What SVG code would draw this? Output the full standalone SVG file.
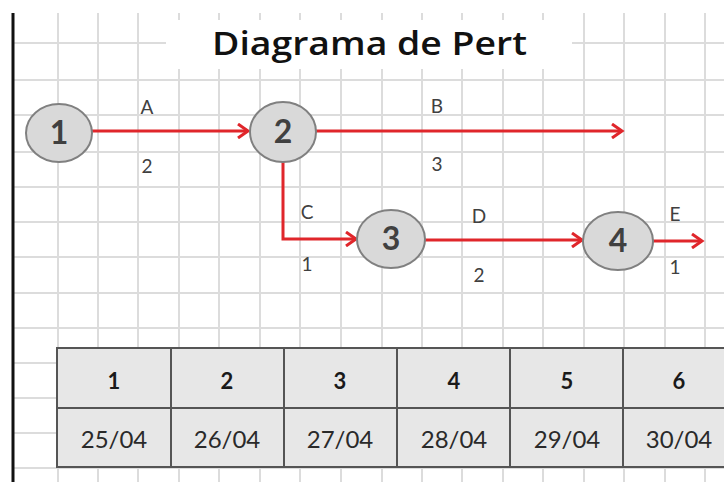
<svg xmlns="http://www.w3.org/2000/svg" width="724" height="482" viewBox="0 0 724 482">
<defs>
<style>
.grid line{stroke:#dcdcdc;stroke-width:2}
.node ellipse{fill:#d9d9d9;stroke:#808080;stroke-width:2}
.node text{font-family:Lato,"Liberation Sans",sans-serif;font-weight:bold;font-size:32px;fill:#404040;text-anchor:middle}
.lbl{font-family:Lato,"Liberation Sans",sans-serif;font-size:19px;fill:#404040;text-anchor:middle}
.edge{fill:none;stroke:#e0262b;stroke-width:3}
.cell rect{fill:#e7e7e7;stroke:#555;stroke-width:2}
.hd{font-family:Lato,"Liberation Sans",sans-serif;font-weight:bold;font-size:22px;fill:#1a1a1a;text-anchor:middle}
.dt{font-family:Lato,"Liberation Sans",sans-serif;font-size:24px;fill:#2a2a2a;text-anchor:middle}
</style>
<marker id="arr" markerUnits="userSpaceOnUse" markerWidth="16" markerHeight="16" refX="12" refY="8" orient="auto">
<path d="M2,1 L12,8 L2,15" fill="none" stroke="#e0262b" stroke-width="3"/>
</marker>
</defs>
<rect width="724" height="482" fill="#ffffff"/>
<g class="grid">
<line x1="13" y1="43" x2="724" y2="43"/>
<line x1="13" y1="80" x2="724" y2="80"/>
<line x1="13" y1="115" x2="724" y2="115"/>
<line x1="13" y1="152" x2="724" y2="152"/>
<line x1="13" y1="187" x2="724" y2="187"/>
<line x1="13" y1="222" x2="724" y2="222"/>
<line x1="13" y1="257" x2="724" y2="257"/>
<line x1="13" y1="293" x2="724" y2="293"/>
<line x1="13" y1="328" x2="724" y2="328"/>
<line x1="13" y1="363" x2="724" y2="363"/>
<line x1="13" y1="398" x2="724" y2="398"/>
<line x1="13" y1="433" x2="724" y2="433"/>
<line x1="13" y1="468" x2="724" y2="468"/>
<line x1="58" y1="13" x2="58" y2="482"/>
<line x1="98" y1="13" x2="98" y2="482"/>
<line x1="138" y1="13" x2="138" y2="482"/>
<line x1="179" y1="13" x2="179" y2="482"/>
<line x1="219" y1="13" x2="219" y2="482"/>
<line x1="260" y1="13" x2="260" y2="482"/>
<line x1="300" y1="13" x2="300" y2="482"/>
<line x1="341" y1="13" x2="341" y2="482"/>
<line x1="382" y1="13" x2="382" y2="482"/>
<line x1="422" y1="13" x2="422" y2="482"/>
<line x1="462" y1="13" x2="462" y2="482"/>
<line x1="503" y1="13" x2="503" y2="482"/>
<line x1="543" y1="13" x2="543" y2="482"/>
<line x1="584" y1="13" x2="584" y2="482"/>
<line x1="624" y1="13" x2="624" y2="482"/>
<line x1="665" y1="13" x2="665" y2="482"/>
<line x1="705" y1="13" x2="705" y2="482"/>
</g>
<line x1="13" y1="13" x2="13" y2="482" stroke="#111" stroke-width="3"/>
<g id="title">
<rect x="166" y="20" width="406" height="49" fill="#ffffff"/>
<text x="212" y="55" font-family="'Open Sans','Liberation Sans',sans-serif" font-size="32" font-weight="600" fill="#111" textLength="315" lengthAdjust="spacingAndGlyphs">Diagrama de Pert</text>
</g>
<g id="connectors">
<path class="edge" d="M92,131 H248" marker-end="url(#arr)"/>
<path class="edge" d="M316,131 H622" marker-end="url(#arr)"/>
<path class="edge" d="M283,161 V239 H356" marker-end="url(#arr)"/>
<path class="edge" d="M424,240 H582" marker-end="url(#arr)"/>
<path class="edge" d="M653,241 H702" marker-end="url(#arr)"/>
<text class="lbl" x="147" y="114">A</text>
<text class="lbl" x="147" y="173">2</text>
<text class="lbl" x="437" y="113">B</text>
<text class="lbl" x="437" y="171">3</text>
<text class="lbl" x="307" y="219">C</text>
<text class="lbl" x="307" y="271">1</text>
<text class="lbl" x="479" y="223">D</text>
<text class="lbl" x="479" y="282">2</text>
<text class="lbl" x="675" y="221">E</text>
<text class="lbl" x="675" y="274">1</text>
</g>
<g id="node1" class="node"><ellipse cx="59" cy="133" rx="33" ry="29"/><text x="59" y="144">1</text></g>
<g id="node2" class="node"><ellipse cx="283" cy="132" rx="33" ry="30"/><text x="283" y="143">2</text></g>
<g id="node3" class="node"><ellipse cx="391" cy="239" rx="34" ry="29"/><text x="391" y="250">3</text></g>
<g id="node4" class="node"><ellipse cx="618" cy="241" rx="35" ry="29"/><text x="618" y="252">4</text></g>
<g id="table" class="cell">
<rect x="57" y="348" width="114" height="60"/><rect x="57" y="408" width="114" height="59"/>
<rect x="171" y="348" width="113" height="60"/><rect x="171" y="408" width="113" height="59"/>
<rect x="284" y="348" width="113" height="60"/><rect x="284" y="408" width="113" height="59"/>
<rect x="397" y="348" width="113" height="60"/><rect x="397" y="408" width="113" height="59"/>
<rect x="510" y="348" width="113" height="60"/><rect x="510" y="408" width="113" height="59"/>
<rect x="623" y="348" width="113" height="60"/><rect x="623" y="408" width="113" height="59"/>
<text class="hd" x="114" y="389">1</text>
<text class="hd" x="227" y="389">2</text>
<text class="hd" x="340" y="389">3</text>
<text class="hd" x="454" y="389">4</text>
<text class="hd" x="567" y="389">5</text>
<text class="hd" x="679" y="389">6</text>
<text class="dt" x="114" y="448">25/04</text>
<text class="dt" x="227" y="448">26/04</text>
<text class="dt" x="340" y="448">27/04</text>
<text class="dt" x="454" y="448">28/04</text>
<text class="dt" x="567" y="448">29/04</text>
<text class="dt" x="679" y="448">30/04</text>
</g>
</svg>
